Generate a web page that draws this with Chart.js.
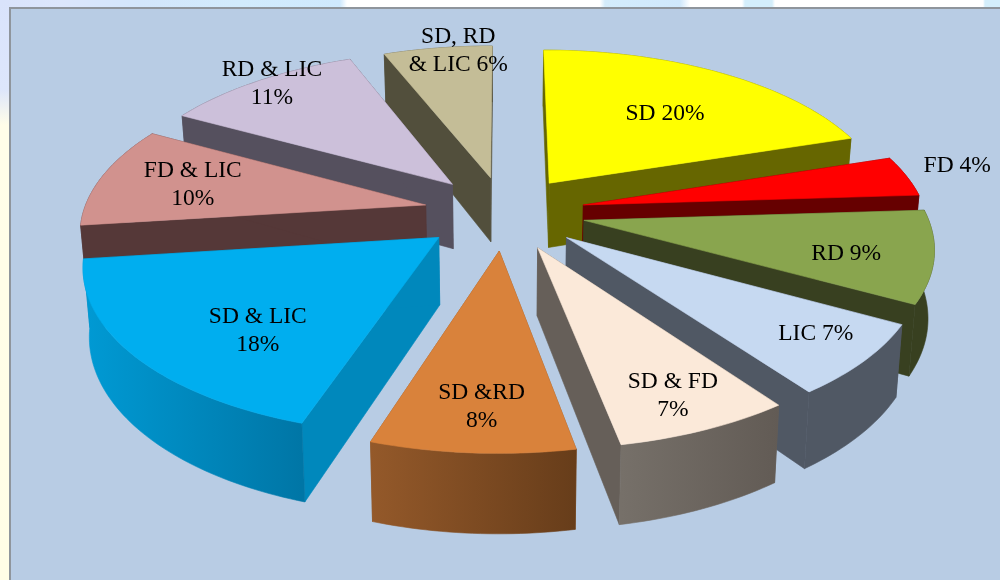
<!DOCTYPE html>
<html>
<head>
<meta charset="utf-8">
<script src="https://cdn.jsdelivr.net/npm/chart.js@4/dist/chart.umd.min.js"></script>
<style>
html,body{margin:0;padding:0;width:1000px;height:580px;overflow:hidden;background:#fff}
#strip-top{position:absolute;left:0;top:0;width:1000px;height:7px;background:linear-gradient(90deg,#d9e3fb 0,#dce6fb 60px,#d3e6fb 140px,#d2ebfc 240px,#cfe9fd 340px,#fff 347px,#fff 600px,#d4ecfb 605px,#d0e8fb 680px,#fff 690px,#fff 742px,#d4eefb 745px,#d4eefb 772px,#fff 775px,#fff 983px,#d4eefb 985px)}
#strip-left{position:absolute;left:0;top:0;width:9px;height:580px;background:linear-gradient(180deg,#d9e3fb 0,#dde6fb 90px,#fffde9 125px,#fffde6 580px)}
#frame{position:absolute;left:9px;top:7px;width:991px;height:573px;background:#b8cce4;box-shadow:inset 2px 2px 0 #8f959c}
canvas{position:absolute;left:0;top:0}
</style>
</head>
<body>
<div id="strip-top"></div><div id="strip-left"></div><div id="frame"></div>
<canvas id="c" width="1000" height="580"></canvas>
<script>
const categories = ["SD","FD","RD","LIC","SD & FD","SD &RD","SD & LIC","FD & LIC","RD & LIC","SD, RD & LIC"];
const shares = [20,4,9,7,7,8,18,10,11,6];
const labelLines = [["SD 20%"],["FD 4%"],["RD 9%"],["LIC 7%"],["SD & FD","7%"],["SD &RD","8%"],["SD & LIC","18%"],["FD & LIC","10%"],["RD & LIC","11%"],["SD, RD","& LIC 6%"]];
const topColours = ["#ffff00","#ff0000","#89a54e","#c6d9f1","#fbe9d9","#d9823b","#00aeef","#d1928e","#ccc0da","#c4bd97"];
const sideColours = ["#666600","#660000","#384020","#505864","#665f59","#8f5728","#0088bc","#553838","#55505e","#524f3c"];
const edgeStart = ["#666600","#660000","#384020","#505864","#767069","#94592a","#009ad4","#553838","#55505e","#524f3c"];
const edgeEnd = ["#666600","#660000","#384020","#505864","#625b55","#673d1a","#0076a6","#553838","#55505e","#524f3c"];
const sliceOffsets = [59,61,61,61,61,61,63,61,61,58];
const labelReach = [.676,1.1,.8,.88,.85,.83,.7,.8,.95,.98];
const labelNudgeX = [7.5,12,.8,-.6,2.2,3,1.4,12,3,20];
const labelNudgeY = [.5,-6.4,6.5,-7,4.3,2,22.5,1.4,-3,1.5];

const view = {cx:504.5,cy:212,kx:423,ky:198,p:.18,h:66,taper:.015,base:61};
function project(u,v,d){
  const s = 1/(1-view.p*v);
  const x = view.kx*u*s*(1-view.taper*d);
  return [view.cx+x, view.cy+view.ky*v*s+d*view.h*s];
}
function arcPts(ox,oy,r,a0,a1,d){
  const n = Math.max(6,Math.ceil((a1-a0)/0.02)), pts=[];
  for(let i=0;i<=n;i++){const a=a0+(a1-a0)*i/n;pts.push(project(ox+r*Math.cos(a),oy+r*Math.sin(a),d));}
  return pts;
}
function fillPoly(ctx,pts,fill){
  ctx.beginPath();pts.forEach((p,i)=>i?ctx.lineTo(p[0],p[1]):ctx.moveTo(p[0],p[1]));ctx.closePath();
  ctx.fillStyle=fill;ctx.fill();ctx.strokeStyle=fill;ctx.lineWidth=.6;ctx.stroke();
}
function geom(el){
  const R=el.outerRadius,off=el.options.offset,T=R+view.base,mid=(el.startAngle+el.endAngle)/2;
  return {r:R/T,ox:Math.cos(mid)*off/T,oy:Math.sin(mid)*off/T,a0:el.startAngle,a1:el.endAngle,mid};
}
const tilted = {
  id:'tilted',
  beforeDatasetDraw(chart,args){
    const ctx=chart.ctx, arcs=chart.getDatasetMeta(args.index).data;
    const order=arcs.map((el,i)=>({i,g:geom(el)})).sort((a,b)=>
      (a.g.oy+.6*a.g.r*Math.sin(a.g.mid))-(b.g.oy+.6*b.g.r*Math.sin(b.g.mid)));
    ctx.save();
    order.forEach(({i,g})=>{
      const aT=project(g.ox,g.oy,0),aB=project(g.ox,g.oy,1);
      const top=arcPts(g.ox,g.oy,g.r,g.a0,g.a1,0),bot=arcPts(g.ox,g.oy,g.r,g.a0,g.a1,1);
      fillPoly(ctx,[aT,top[0],bot[0],aB],sideColours[i]);
      fillPoly(ctx,[aT,top[top.length-1],bot[bot.length-1],aB],sideColours[i]);
      const xs=top.map(p=>p[0]),gr=ctx.createLinearGradient(Math.min(...xs),0,Math.max(...xs),0);
      gr.addColorStop(0,edgeStart[i]);gr.addColorStop(1,edgeEnd[i]);
      fillPoly(ctx,top.concat(bot.slice().reverse()),gr);
      fillPoly(ctx,[aT].concat(top),topColours[i]);
    });
    ctx.restore();
    return false;
  },
  afterDatasetsDraw(chart){
    const ctx=chart.ctx, arcs=chart.getDatasetMeta(0).data;
    ctx.save();
    ctx.font='23.5px "Liberation Serif"';ctx.fillStyle='#000';ctx.textAlign='center';ctx.textBaseline='middle';
    arcs.forEach((el,i)=>{
      const g=geom(el),rho=labelReach[i];
      const p=project(rho*Math.cos(g.mid),rho*Math.sin(g.mid),0);
      const lines=labelLines[i],lh=28;
      lines.forEach((t,k)=>ctx.fillText(t,p[0]+labelNudgeX[i],p[1]+labelNudgeY[i]+(k-(lines.length-1)/2)*lh));
    });
    ctx.restore();
  }
};
new Chart(document.getElementById('c'),{
  type:'pie',
  data:{labels:categories,datasets:[{data:shares,backgroundColor:topColours,borderWidth:0,offset:sliceOffsets,hoverOffset:0}]},
  options:{responsive:false,animation:false,layout:{padding:0},rotation:0,
    plugins:{legend:{display:false},tooltip:{enabled:false},title:{display:false}}},
  plugins:[tilted]
});
</script>
</body>
</html>
